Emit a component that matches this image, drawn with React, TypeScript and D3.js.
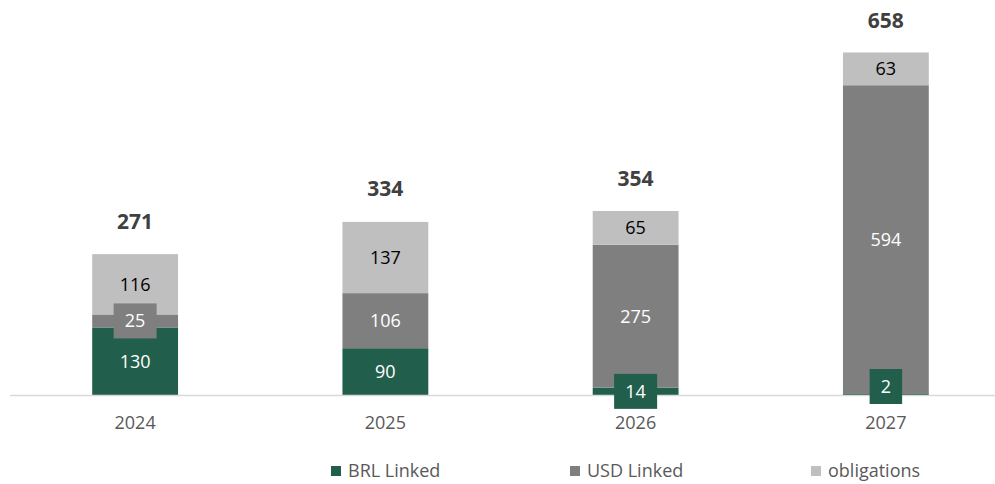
import React from "react";
import * as d3 from "d3";

const categories = ["2024", "2025", "2026", "2027"];
const brlLinked = [130, 90, 14, 2];
const usdLinked = [25, 106, 275, 594];
const obligations = [116, 137, 65, 63];
const totals = [271, 334, 354, 658];
const seriesNames = ["BRL Linked", "USD Linked", "obligations"];

const W = 995;
const H = 484;
const FONT = "'Open Sans', 'Noto Sans', sans-serif";
const colors = ["#215e4b", "#7f7f7f", "#bfbfbf"];
const textColors = ["#ffffff", "#ffffff", "#000000"];

export default function App() {
  const baseline = 395;
  const x = d3.scaleBand<string>().domain(categories).range([10, 1011]).paddingInner(0.657).paddingOuter(0.3285);
  const y = d3.scaleLinear().domain([0, 658]).range([baseline, 53]);
  const stack = d3.stack<any>().keys(["brl", "usd", "obl"]);
  const rows = categories.map((c, i) => ({ cat: c, brl: brlLinked[i], usd: usdLinked[i], obl: obligations[i] }));
  const series = stack(rows);
  const bw = x.bandwidth();

  return (
    <svg width={W} height={H} style={{ position: "absolute", left: 0, top: 0, background: "#fff" }} fontFamily={FONT}>
      {series.map((s, si) => (
        <g key={si}>
          {s.map((d, i) => (
            <rect key={i} x={x(categories[i])} y={y(d[1])} width={bw} height={y(d[0]) - y(d[1])} fill={colors[si]} />
          ))}
        </g>
      ))}
      <line x1={10} x2={W} y1={baseline + 0.5} y2={baseline + 0.5} stroke="#d9d9d9" strokeWidth={1.5} />
      {series.map((s, si) => (
        <g key={"l" + si}>
          {s.map((d, i) => {
            const v = d[1] - d[0];
            const cx = (x(categories[i]) as number) + bw / 2;
            let cy = (y(d[0]) + y(d[1])) / 2;
            const h = y(d[0]) - y(d[1]);
            const label = String(v);
            const small = h < 22;
            const boxW = label.length * 10.5 + 22;
            const boxH = 35;
            if (small && v < 5) cy = baseline - 8.5;
            return (
              <g key={i}>
                {small && (
                  <rect x={cx - boxW / 2} y={cy - boxH / 2} width={boxW} height={boxH} fill={colors[si]} />
                )}
                <text x={cx} y={cy} dy="0.36em" textAnchor="middle" fontSize={18} fill={textColors[si]}>
                  {label}
                </text>
              </g>
            );
          })}
        </g>
      ))}
      {totals.map((t, i) => (
        <text key={"t" + i} x={(x(categories[i]) as number) + bw / 2} y={y(t) - 33} dy="0.36em" textAnchor="middle" fontSize={21} fontWeight="bold" fill="#404040">
          {t}
        </text>
      ))}
      {categories.map((c, i) => (
        <text key={"c" + i} x={(x(c) as number) + bw / 2} y={423} dy="0.36em" textAnchor="middle" fontSize={18} fill="#595959">
          {c}
        </text>
      ))}
      {seriesNames.map((n, i) => {
        const lx = [331, 570, 811][i];
        return (
          <g key={"lg" + i}>
            <rect x={lx} y={466} width={10} height={10} fill={colors[i]} />
            <text x={lx + 17} y={471} dy="0.36em" fontSize={18} fill="#595959">
              {n}
            </text>
          </g>
        );
      })}
    </svg>
  );
}
